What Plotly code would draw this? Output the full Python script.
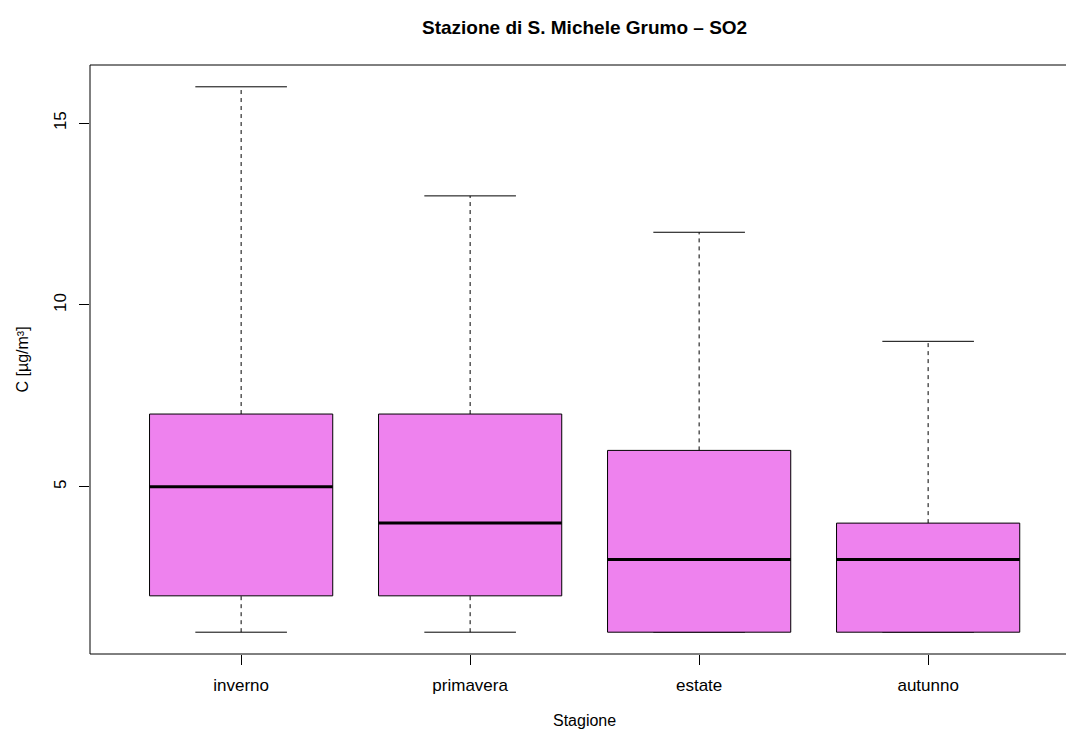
import plotly.graph_objects as go

categories = ["inverno", "primavera", "estate", "autunno"]
lower = [1, 1, 1, 1]
q1 = [2, 2, 1, 1]
median = [5, 4, 3, 3]
q3 = [7, 7, 6, 4]
upper = [16, 13, 12, 9]
y_ticks = [5, 10, 15]

FILL = "#EE82EE"
FONT = "Liberation Sans, Arial, Helvetica, sans-serif"
HW = 0.4   # box half width
CW = 0.2   # cap half width

fig = go.Figure()
for i, cat in enumerate(categories):
    x = i + 1
    # whiskers (dashed)
    fig.add_trace(go.Scatter(x=[x, x, None, x, x], y=[q3[i], upper[i], None, lower[i], q1[i]],
                             mode="lines", line=dict(color="black", width=1, dash="4px,4px"),
                             hoverinfo="skip", showlegend=False))
    # caps
    fig.add_trace(go.Scatter(x=[x - CW, x + CW, None, x - CW, x + CW],
                             y=[upper[i], upper[i], None, lower[i], lower[i]],
                             mode="lines", line=dict(color="black", width=1),
                             hoverinfo="skip", showlegend=False))
    # box
    fig.add_trace(go.Scatter(x=[x - HW, x + HW, x + HW, x - HW, x - HW],
                             y=[q1[i], q1[i], q3[i], q3[i], q1[i]],
                             mode="lines", fill="toself", fillcolor=FILL,
                             line=dict(color="black", width=1),
                             name=cat, showlegend=False))
    # median
    fig.add_trace(go.Scatter(x=[x - HW, x + HW], y=[median[i], median[i]],
                             mode="lines", line=dict(color="black", width=3),
                             hoverinfo="skip", showlegend=False))

W, H = 1066, 731
L, R, T, B = 90, 0, 65, 731 - 654
PW = W - L - R
PH = H - T - B
x0 = 0.34
upx = 229.0
x1 = x0 + PW / upx

fig.update_layout(
    width=W, height=H,
    margin=dict(l=L, r=R, t=T, b=B, autoexpand=False),
    plot_bgcolor="white", paper_bgcolor="white",
    font=dict(family=FONT, size=17, color="black"),
    xaxis=dict(range=[x0, x1], tickvals=[1, 2, 3, 4], ticktext=categories,
               ticks="outside", ticklen=10, tickcolor="black", tickwidth=1,
               showgrid=False, zeroline=False, showline=False,
               ticklabelstandoff=6, tickfont=dict(size=17, family=FONT)),
    yaxis=dict(range=[0.4, 16.6], tickvals=y_ticks,
               ticks="outside", ticklen=10, tickcolor="black", tickwidth=1,
               showgrid=False, zeroline=False, showline=False,
               tickangle=-90, ticklabelstandoff=6, tickfont=dict(size=17, family=FONT)),
    shapes=[
        dict(type="line", xref="paper", yref="paper", x0=0, x1=0, y0=0, y1=1,
             line=dict(color="black", width=1)),
        dict(type="line", xref="paper", yref="paper", x0=0, x1=1, y0=1, y1=1,
             line=dict(color="black", width=1)),
        dict(type="line", xref="paper", yref="paper", x0=0, x1=1, y0=0, y1=0,
             line=dict(color="black", width=1)),
    ],
    annotations=[
        dict(text="<b>Stazione di S. Michele Grumo – SO2</b>", xref="paper", yref="paper",
             x=(584 - L) / PW, y=1 + (T - 27) / PH,
             xanchor="center", yanchor="middle", showarrow=False,
             font=dict(size=19, family=FONT)),
        dict(text="Stagione", xref="paper", yref="paper",
             x=(584 - L) / PW, y=-(720 - (H - B)) / PH,
             xanchor="center", yanchor="middle", showarrow=False,
             font=dict(size=16, family=FONT)),
        dict(text="C [µg/m³]", xref="paper", yref="paper",
             x=-(L - 22) / PW, y=0.5, textangle=-90,
             xanchor="center", yanchor="middle", showarrow=False,
             font=dict(size=16, family=FONT)),
    ],
)

fig.write_html(
    "out.html",
    config={"displayModeBar": False},
    post_script="document.documentElement.style.margin='0';"
                "document.body.style.margin='0';"
                "document.body.style.overflow='hidden';",
)
